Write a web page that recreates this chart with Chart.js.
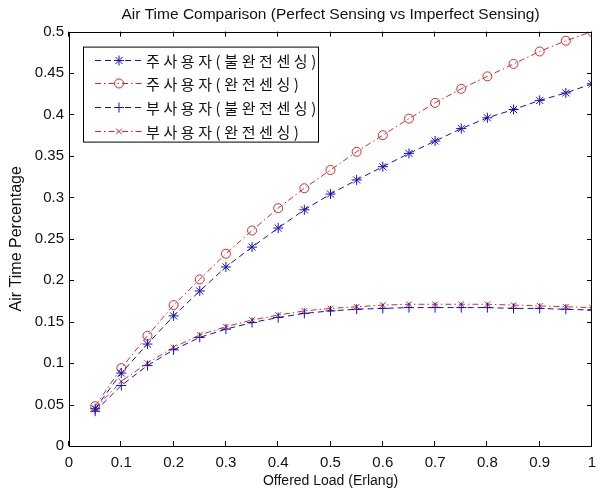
<!DOCTYPE html>
<html>
<head>
<meta charset="utf-8">
<script src="https://cdn.jsdelivr.net/npm/chart.js@4.4.0/dist/chart.umd.min.js"></script>
<style>
  html, body { margin: 0; padding: 0; background: #fff; overflow: hidden; }
  #wrap { width: 598px; height: 494px; }
</style>
</head>
<body>
<div id="wrap"><canvas id="c" width="598" height="494"></canvas></div>
<script>
// 데이터
const offeredLoad = [0.05, 0.1, 0.15, 0.2, 0.25, 0.3, 0.35, 0.4, 0.45, 0.5,
                     0.55, 0.6, 0.65, 0.7, 0.75, 0.8, 0.85, 0.9, 0.95, 1.0];
const primaryImperfect = [0.045, 0.088, 0.123, 0.157, 0.187, 0.216, 0.240, 0.263, 0.285, 0.304,
                          0.321, 0.337, 0.353, 0.368, 0.383, 0.396, 0.406, 0.417, 0.426, 0.437];
const primaryPerfect = [0.048, 0.094, 0.133, 0.170, 0.201, 0.232, 0.260, 0.287, 0.311, 0.333,
                        0.355, 0.375, 0.395, 0.414, 0.431, 0.446, 0.461, 0.476, 0.489, 0.500];
const secondaryImperfect = [0.042, 0.073, 0.097, 0.116, 0.131, 0.141, 0.149, 0.155, 0.160, 0.163,
                            0.165, 0.166, 0.167, 0.167, 0.167, 0.167, 0.166, 0.166, 0.165, 0.164];
const secondaryPerfect = [0.045, 0.078, 0.100, 0.119, 0.134, 0.144, 0.152, 0.158, 0.163, 0.166,
                          0.168, 0.170, 0.171, 0.171, 0.171, 0.171, 0.170, 0.169, 0.168, 0.167];
const seriesNames = ['주사용자(불완전센싱)', '주사용자(완전센싱)', '부사용자(불완전센싱)', '부사용자(완전센싱)'];

const BLUE = '#1212b8';
const RED = '#dc2828';
const DASH = [6, 4];
const DASHDOT = [6, 3, 1.5, 3];
const FONT = '"Liberation Sans", Arial, sans-serif';

function toPoints(ys) {
    return offeredLoad.map((x, i) => ({ x: x, y: ys[i] }));
}

function makeSet(label, ys, color, dash, style, radius) {
    return {
        label: label,
        data: toPoints(ys),
        borderColor: color,
        borderWidth: 1,
        borderDash: dash,
        pointStyle: style,
        pointRadius: radius,
        pointBorderColor: color,
        pointBackgroundColor: 'rgba(0,0,0,0)',
        pointBorderWidth: 1,
        tension: 0,
        fill: false
    };
}

// 상자와 안쪽 눈금 (MATLAB 스타일)
const boxTicks = {
    id: 'boxTicks',
    afterDraw(chart) {
        const ctx = chart.ctx;
        const a = chart.chartArea;
        const xs = chart.scales.x, ys = chart.scales.y;
        const len = 5;
        ctx.save();
        ctx.strokeStyle = '#000';
        ctx.lineWidth = 1;
        ctx.setLineDash([]);
        ctx.beginPath();
        xs.ticks.forEach(t => {
            const px = Math.round(xs.getPixelForValue(t.value)) - 0.5;
            ctx.moveTo(px, a.bottom); ctx.lineTo(px, a.bottom - len);
            ctx.moveTo(px, a.top); ctx.lineTo(px, a.top + len);
        });
        ys.ticks.forEach(t => {
            const py = Math.round(ys.getPixelForValue(t.value)) + 0.5;
            ctx.moveTo(a.left, py); ctx.lineTo(a.left + len, py);
            ctx.moveTo(a.right, py); ctx.lineTo(a.right - len, py);
        });
        ctx.stroke();
        ctx.strokeRect(Math.round(a.left) + 0.5, Math.round(a.top) + 0.5,
                       Math.round(a.right - a.left) - 1, Math.round(a.bottom - a.top));
        ctx.restore();
    }
};

// 범례: 선 + 마커 + 글자
const matLegend = {
    id: 'matLegend',
    afterDraw(chart) {
        const ctx = chart.ctx;
        const a = chart.chartArea;
        const left = a.left + 14, top = a.top + 15;
        const w = 235, h = 95;
        ctx.save();
        ctx.fillStyle = '#fff';
        ctx.fillRect(left, top, w, h);
        ctx.strokeStyle = '#000';
        ctx.lineWidth = 1;
        ctx.strokeRect(left + 0.5, top + 0.5, w, h);
        chart.data.datasets.forEach((ds, i) => {
            const y = Math.round(top + 13 + i * 23.7) + 0.5;
            ctx.strokeStyle = ds.borderColor;
            ctx.lineWidth = 1;
            ctx.setLineDash(ds.borderDash);
            ctx.beginPath();
            ctx.moveTo(left + 12, y);
            ctx.lineTo(left + 59, y);
            ctx.stroke();
            ctx.setLineDash([]);
            ctx.fillStyle = 'rgba(0,0,0,0)';
            Chart.helpers.drawPoint(ctx, {
                pointStyle: ds.pointStyle, radius: ds.pointRadius, rotation: 0, borderWidth: 1
            }, left + 36, y);
            ctx.fillStyle = '#111';
            ctx.font = '15px "Noto Sans CJK KR", sans-serif';
            ctx.letterSpacing = '3.6px';
            ctx.textBaseline = 'middle';
            ctx.textAlign = 'left';
            ctx.fillText(ds.label, left + 63, y + 1);
        });
        ctx.restore();
    }
};

function fmt(v) {
    return String(Number(v.toFixed(2)));
}

new Chart(document.getElementById('c'), {
    type: 'line',
    data: {
        datasets: [
            makeSet(seriesNames[0], primaryImperfect, BLUE, DASH, 'star', 5),
            makeSet(seriesNames[1], primaryPerfect, RED, DASHDOT, 'circle', 4.5),
            makeSet(seriesNames[2], secondaryImperfect, BLUE, DASH, 'cross', 5),
            makeSet(seriesNames[3], secondaryPerfect, RED, DASHDOT, 'crossRot', 4)
        ]
    },
    options: {
        responsive: false,
        animation: false,
        layout: { padding: { top: 0, right: 1, bottom: 0, left: 0 } },
        plugins: {
            legend: { display: false },
            tooltip: { enabled: false },
            title: {
                display: true,
                fullSize: false,
                text: 'Air Time Comparison (Perfect Sensing vs Imperfect Sensing)',
                color: '#111',
                font: { family: FONT, size: 15.5, weight: 'normal' },
                padding: { top: 5, bottom: 8 }
            }
        },
        scales: {
            x: {
                type: 'linear',
                min: 0, max: 1,
                grid: { display: false, drawTicks: false },
                border: { display: false },
                ticks: {
                    stepSize: 0.1, padding: 8, color: '#111', maxRotation: 0,
                    font: { family: FONT, size: 15 },
                    callback: v => fmt(v)
                },
                title: {
                    display: true, text: 'Offered Load (Erlang)', color: '#111',
                    font: { family: FONT, size: 14 }, padding: { top: 0, bottom: 4 }
                },
                afterFit(scale) {
                    scale.height = 48;
                    scale.paddingLeft = 0;
                    scale.paddingRight = 0;
                }
            },
            y: {
                min: 0, max: 0.5,
                grid: { display: false, drawTicks: false },
                border: { display: false },
                ticks: {
                    stepSize: 0.05, padding: 5, color: '#111',
                    font: { family: FONT, size: 15 },
                    callback: v => fmt(v)
                },
                title: {
                    display: true, text: 'Air Time Percentage', color: '#111',
                    font: { family: FONT, size: 16 }, padding: { top: 7, bottom: 0 }
                },
                afterFit(scale) { scale.width = 69; }
            }
        }
    },
    plugins: [boxTicks, matLegend]
});
</script>
</body>
</html>
